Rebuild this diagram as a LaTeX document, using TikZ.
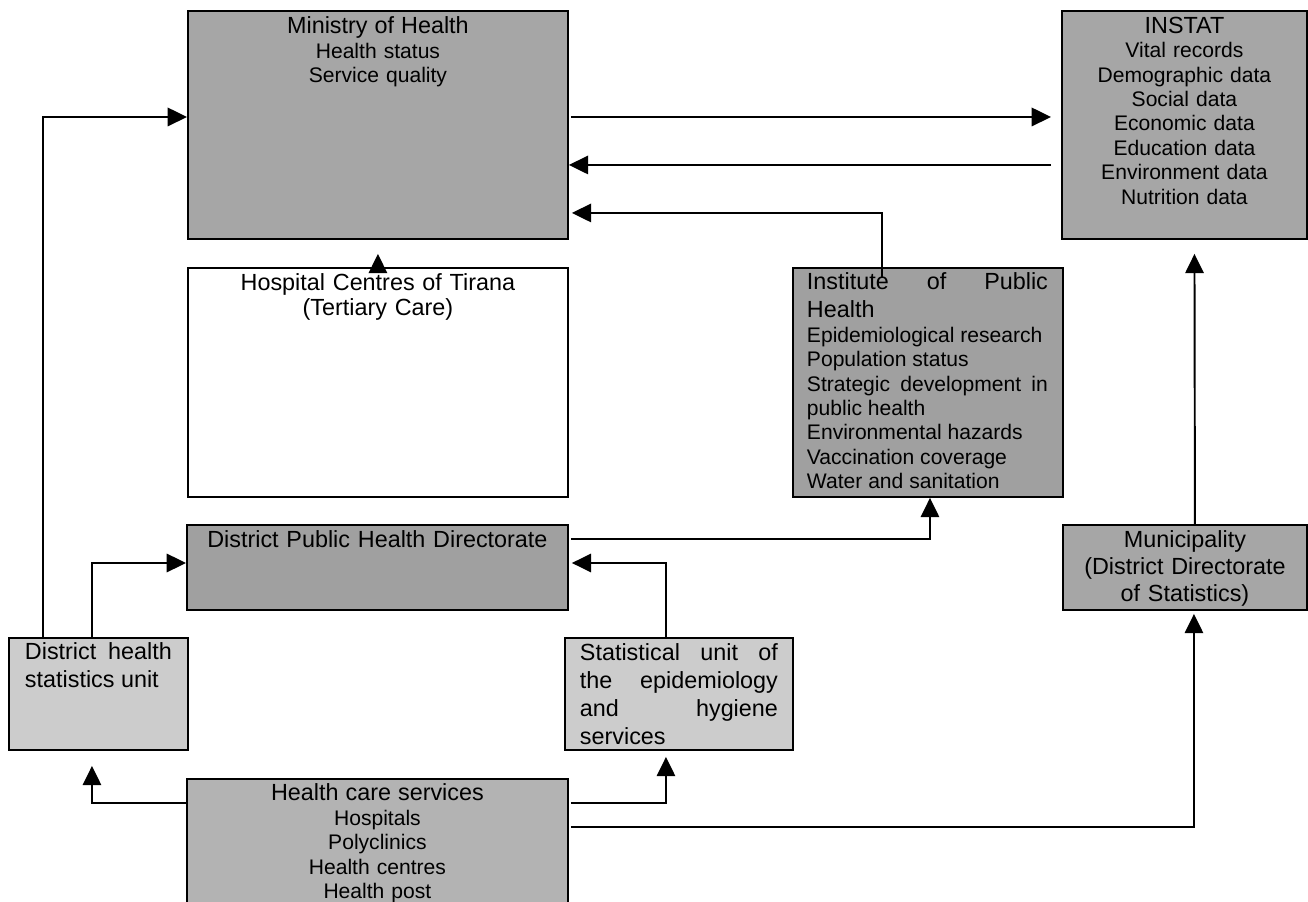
\documentclass[tikz,border=0pt]{standalone}
\usepackage{fontspec}
\setmainfont{Liberation Sans}
\usetikzlibrary{arrows.meta}
\hyphenpenalty=10000
\definecolor{gMin}{HTML}{A6A6A6}
\definecolor{gIph}{HTML}{A0A0A0}
\definecolor{gHcs}{HTML}{B3B3B3}
\definecolor{gLight}{HTML}{CCCCCC}

\begin{document}
\begin{tikzpicture}[
    x=0.02cm, y=-0.02cm,
    >={Triangle[length=11pt,width=10.5pt]},
    line width=1.1pt,
    box/.style={draw, anchor=north west, inner sep=0pt},
    head/.style={font=\fontsize{13.3}{15.9}\selectfont},
    list/.style={font=\fontsize{12}{13.9}\selectfont},
    txt/.style={anchor=north, inner sep=0pt, align=center}
]

\useasboundingbox (0,0) rectangle (1308,902);

% Boxes
\node[box, fill=gMin, minimum width=7.6cm, minimum height=4.56cm] (min) at (187,10) {};
\node[box, fill=gMin, minimum width=4.9cm, minimum height=4.56cm] (ins) at (1061,10) {};
\node[box, fill=white, minimum width=7.6cm, minimum height=4.58cm] (hos) at (187,267) {};
\node[box, fill=gIph, minimum width=5.4cm, minimum height=4.58cm] (iph) at (792,267) {};
\node[box, fill=gIph, minimum width=7.62cm, minimum height=1.7cm] (dph) at (186,524) {};
\node[box, fill=gMin, minimum width=4.88cm, minimum height=1.7cm] (mun) at (1062,524) {};
\node[box, fill=gLight, minimum width=3.58cm, minimum height=2.24cm] (dhs) at (8,637) {};
\node[box, fill=gLight, minimum width=4.56cm, minimum height=2.24cm] (stu) at (564,637) {};
\node[box, fill=gHcs, minimum width=7.62cm, minimum height=2.8cm] (hcs) at (186,778) {};

% Texts
\node[txt, list, text width=7cm] (minT) at ([yshift=-0.12cm]min.north)
    {{\fontsize{13.3}{13.9}\selectfont Ministry of Health}\\Health status\\Service quality};
\node[txt, list, text width=4.6cm] (insT) at ([yshift=-0.12cm]ins.north)
    {{\fontsize{13.3}{13.9}\selectfont INSTAT}\\Vital records\\Demographic data\\Social data\\Economic data\\Education data\\Environment data\\Nutrition data};
\node[txt, font=\fontsize{13.3}{13.9}\selectfont, text width=7cm] (hosT) at ([yshift=-0.12cm]hos.north)
    {Hospital Centres of Tirana\\(Tertiary Care)};
\node[txt, list, align=justify, text width=4.82cm, anchor=north west] (iphT) at ([xshift=0.28cm, yshift=-0.1cm]iph.north west)
    {\parindent0pt{\fontsize{13.3}{15.9}\selectfont Institute of Public Health\par}Epidemiological research\par Population status\par Strategic development in public health\par Environmental hazards\par Vaccination coverage\par Water and sanitation};
\node[txt, head, text width=7.4cm] (dphT) at ([yshift=-0.12cm]dph.north)
    {District Public Health Directorate};
\node[txt, font=\fontsize{13.3}{15.3}\selectfont, text width=4.7cm] (munT) at ([yshift=-0.12cm]mun.north)
    {Municipality\\(District Directorate\\of Statistics)};
\node[txt, head, align=justify, text width=2.94cm, anchor=north west] (dhsT) at ([xshift=0.32cm, yshift=-0.1cm]dhs.north west)
    {\parindent0pt District health statistics unit};
\node[txt, head, align=justify, text width=3.96cm, anchor=north west] (stuT) at ([xshift=0.3cm, yshift=-0.12cm]stu.north west)
    {\parindent0pt Statistical unit of the epidemiology and hygiene services};
\node[txt, list, text width=7.4cm] (hcsT) at ([yshift=-0.1cm]hcs.north)
    {{\fontsize{13.3}{13.9}\selectfont Health care services}\\Hospitals\\Polyclinics\\Health centres\\Health post};

% Flows up to the ministry
\draw[->] ([xshift=0.7cm]dhs.north west) |- ([yshift=-2.14cm]min.north west);
\draw[->, shorten >=0.28cm] (hos.north) -- (min.south);
\draw[->] ([xshift=1.8cm, yshift=-0.22cm]iph.north west) |- ([yshift=-4.06cm, xshift=0.06cm]min.north east);

% Ministry and INSTAT
\draw[->, shorten >=0.2cm, shorten <=0.04cm] ([yshift=-2.14cm]min.north east) -- ([yshift=-2.14cm]ins.north west);
\draw[->, shorten <=0.2cm, shorten >=-0.06cm] ([yshift=-3.1cm]ins.north west) -- ([yshift=-3.1cm, xshift=0.06cm]min.north east);
\draw[->, shorten >=0.28cm] ([xshift=0.2cm]mun.north) -- ([xshift=0.2cm]ins.south);

% District level
\draw[->] ([xshift=1.68cm]dhs.north west) |- ([yshift=-0.78cm]dph.north west);
\draw[->, shorten <=0.04cm] ([yshift=-0.3cm]dph.north east) -| ([xshift=2.76cm]iph.south west);
\draw[->] ([xshift=2.04cm]stu.north west) |- ([yshift=-0.78cm, xshift=0.06cm]dph.north east);

% From health care services
\draw[->, shorten >=0.3cm] ([yshift=-0.5cm]hcs.north west) -| ([xshift=1.68cm]dhs.south west);
\draw[->, shorten >=0.12cm, shorten <=0.04cm] ([yshift=-0.5cm]hcs.north east) -| ([xshift=2.04cm]stu.south west);
\draw[->, shorten >=0.06cm, shorten <=0.04cm] ([yshift=-0.98cm]hcs.north east) -| ([xshift=2.64cm]mun.south west);

\end{tikzpicture}
\end{document}
